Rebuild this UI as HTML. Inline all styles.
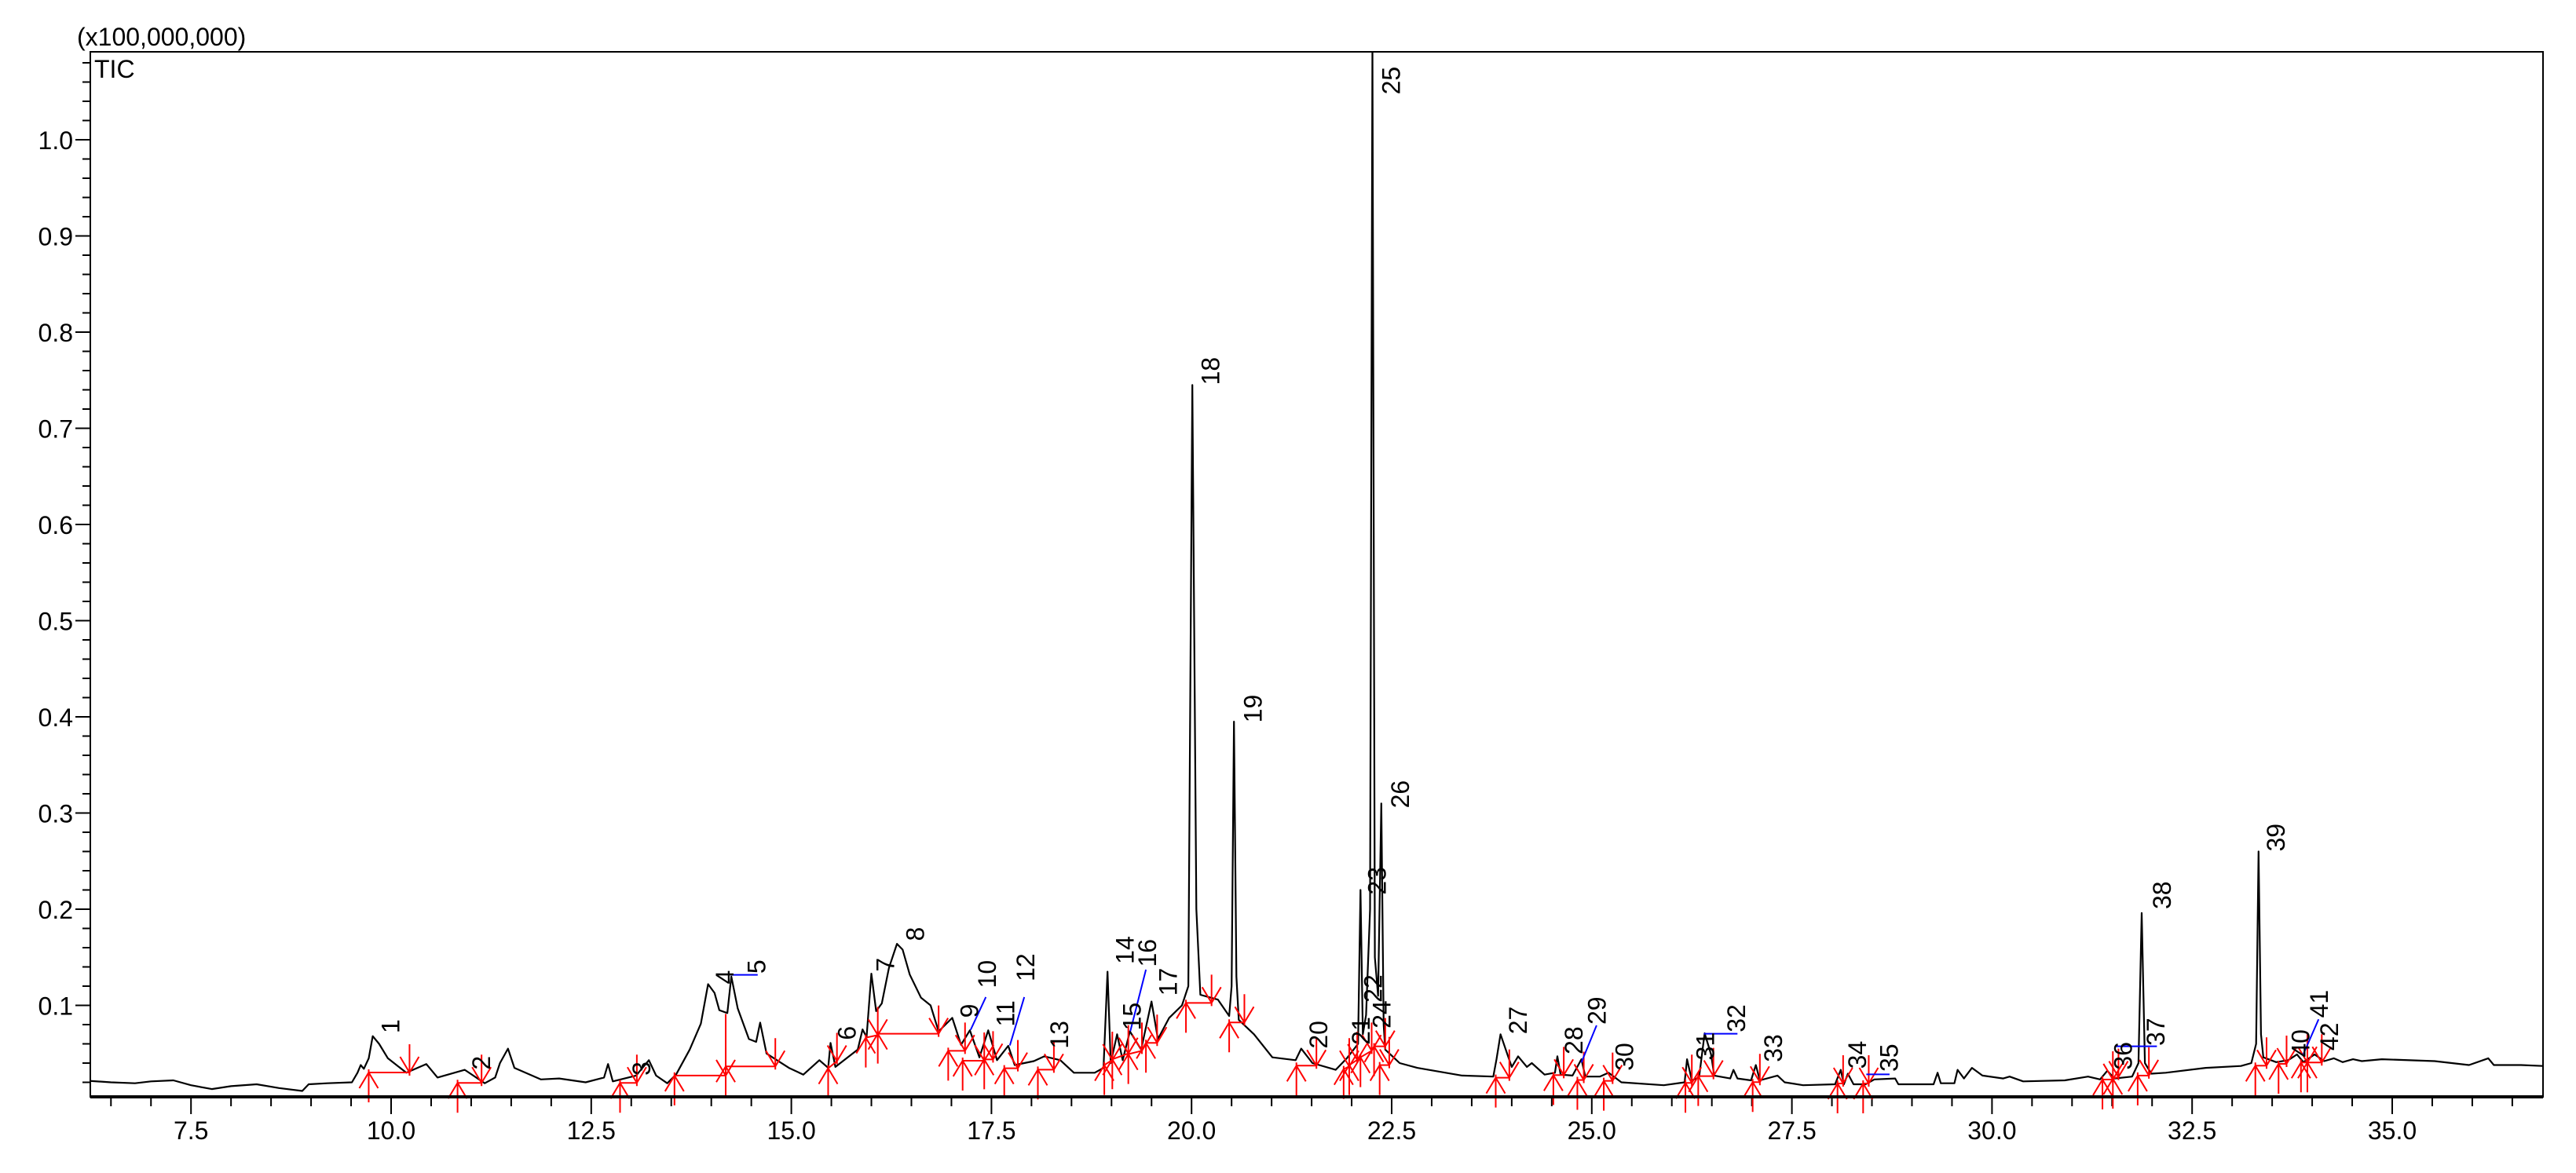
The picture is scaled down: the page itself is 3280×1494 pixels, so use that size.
<!DOCTYPE html>
<html><head><meta charset="utf-8">
<style>
html,body{margin:0;padding:0;background:#fff;}
svg{display:block;font-family:"Liberation Sans",Arial,sans-serif;}
</style></head>
<body>
<svg id="chart" width="3280" height="1494" viewBox="0 0 3280 1494" xmlns="http://www.w3.org/2000/svg">
<rect x="0" y="0" width="3280" height="1494" fill="#fff"/>
<text x="98" y="58" font-size="32">(x100,000,000)</text>
<g id="ticks"></g>
<g id="trace"></g>
<g id="marks"></g>
<g id="labels"></g>
<rect x="115" y="66" width="3123" height="1331" fill="none" stroke="#000" stroke-width="2"/>
<line x1="115" y1="1397" x2="3238" y2="1397" stroke="#000" stroke-width="4"/>
<text x="120" y="99" font-size="32">TIC</text>
</svg>
<script>
// ---- data ----
const xTickLabels = ["7.5","10.0","12.5","15.0","17.5","20.0","22.5","25.0","27.5","30.0","32.5","35.0"];
const yTickLabels = ["0.1","0.2","0.3","0.4","0.5","0.6","0.7","0.8","0.9","1.0"];
const traceTimes = [6.24,6.5,6.8,7.0,7.28,7.5,7.76,8.0,8.32,8.6,8.89,8.97,9.2,9.51,9.58,9.62,9.66,9.72,9.77,9.85,9.96,10.19,10.44,10.58,10.92,11.17,11.3,11.36,11.46,11.54,11.87,12.1,12.43,12.66,12.71,12.77,13.06,13.22,13.31,13.45,13.56,13.73,13.87,13.96,14.04,14.1,14.2,14.25,14.33,14.47,14.56,14.61,14.69,14.97,15.15,15.35,15.46,15.49,15.55,15.83,15.89,15.94,16.0,16.06,16.13,16.22,16.32,16.39,16.48,16.62,16.74,16.84,17.01,17.12,17.23,17.35,17.46,17.57,17.71,17.79,18.03,18.16,18.36,18.53,18.79,18.9,18.95,18.99,19.07,19.14,19.23,19.37,19.5,19.58,19.72,19.88,19.96,20.01,20.06,20.11,20.33,20.47,20.5,20.53,20.56,20.59,20.78,21.01,21.3,21.37,21.51,21.8,21.94,22.08,22.11,22.14,22.18,22.23,22.26,22.29,22.33,22.37,22.4,22.42,22.6,22.82,23.38,23.77,23.81,23.86,23.95,24.0,24.08,24.19,24.25,24.41,24.54,24.57,24.61,24.76,24.87,24.92,25.1,25.21,25.37,25.9,26.16,26.19,26.25,26.34,26.41,26.49,26.53,26.73,26.77,26.82,26.99,27.05,27.1,27.32,27.41,27.64,28.04,28.11,28.15,28.2,28.27,28.42,28.53,28.79,28.83,29.27,29.32,29.36,29.53,29.57,29.65,29.75,29.88,30.14,30.22,30.39,30.91,31.2,31.35,31.44,31.53,31.75,31.83,31.87,31.91,31.99,32.17,32.67,33.11,33.24,33.3,33.33,33.36,33.39,33.55,33.7,33.81,33.89,34.03,34.15,34.27,34.38,34.51,34.62,34.87,35.53,35.96,36.2,36.27,36.61,36.89];
const traceValues = [0.0215,0.020,0.019,0.021,0.022,0.017,0.013,0.016,0.018,0.014,0.011,0.018,0.019,0.020,0.030,0.038,0.034,0.045,0.068,0.060,0.045,0.030,0.039,0.025,0.033,0.019,0.025,0.040,0.055,0.035,0.023,0.024,0.020,0.025,0.039,0.021,0.027,0.043,0.027,0.019,0.028,0.054,0.081,0.122,0.113,0.095,0.092,0.130,0.097,0.065,0.062,0.082,0.050,0.035,0.028,0.043,0.035,0.061,0.036,0.054,0.075,0.067,0.133,0.094,0.102,0.139,0.164,0.158,0.132,0.108,0.100,0.073,0.087,0.059,0.074,0.046,0.074,0.043,0.058,0.038,0.042,0.047,0.043,0.030,0.030,0.035,0.135,0.040,0.070,0.043,0.073,0.054,0.104,0.065,0.087,0.100,0.120,0.745,0.200,0.111,0.106,0.089,0.120,0.395,0.130,0.085,0.070,0.046,0.043,0.055,0.040,0.033,0.045,0.060,0.220,0.070,0.090,0.200,1.100,0.150,0.110,0.310,0.080,0.054,0.040,0.035,0.027,0.026,0.044,0.070,0.048,0.036,0.047,0.036,0.040,0.028,0.030,0.047,0.028,0.027,0.044,0.026,0.026,0.030,0.020,0.017,0.020,0.044,0.022,0.025,0.071,0.049,0.027,0.024,0.033,0.024,0.022,0.038,0.022,0.027,0.020,0.017,0.018,0.033,0.018,0.029,0.018,0.018,0.023,0.024,0.018,0.018,0.030,0.019,0.019,0.033,0.024,0.035,0.027,0.024,0.026,0.021,0.022,0.026,0.023,0.032,0.024,0.026,0.040,0.196,0.040,0.029,0.030,0.035,0.037,0.040,0.060,0.260,0.070,0.046,0.041,0.043,0.049,0.041,0.049,0.042,0.045,0.041,0.044,0.042,0.044,0.042,0.038,0.045,0.038,0.038,0.037];
const peakNames = ["1","2","3","4","5","6","7","8","9","10","11","12","13","14","15","16","17","18","19","20","21","22","23","24","25","26","27","28","29","30","31","32","33","34","35","36","37","38","39","40","41","42"];
const peakLabelTimes = [9.87,11.0,13.0,14.04,14.44,15.57,16.05,16.42,17.1,17.32,17.55,17.8,18.22,19.04,19.13,19.32,19.58,20.11,20.64,21.46,21.99,22.14,22.19,22.25,22.37,22.48,23.95,24.65,24.94,25.28,26.29,26.68,27.14,28.19,28.59,31.51,31.92,32.0,33.42,33.73,33.96,34.09];
const peakLabelValues = [0.071,0.033,0.027,0.122,0.133,0.064,0.135,0.167,0.087,0.118,0.078,0.125,0.055,0.143,0.074,0.140,0.110,0.745,0.394,0.055,0.059,0.103,0.215,0.076,1.047,0.305,0.070,0.049,0.080,0.032,0.043,0.072,0.041,0.034,0.031,0.033,0.058,0.200,0.260,0.046,0.087,0.053];
const segStartT = [9.72,10.83,12.86,13.54,14.18,15.46,15.93,16.08,16.96,17.14,17.41,17.66,18.08,18.91,19.01,19.21,19.43,19.93,20.47,21.31,21.90,21.97,22.11,22.28,22.35,23.80,24.52,24.82,25.15,26.17,26.33,27.01,28.07,28.39,31.38,31.51,31.82,33.29,33.58,33.86,33.94];
const segStartV = [0.0302,0.0194,0.0194,0.027,0.0365,0.0346,0.0664,0.0705,0.0528,0.0425,0.0438,0.0346,0.0332,0.0379,0.0439,0.0493,0.061,0.1026,0.0822,0.0373,0.0338,0.0379,0.046,0.0574,0.0379,0.0248,0.0275,0.0224,0.0215,0.0194,0.0264,0.0202,0.0188,0.0188,0.0229,0.0237,0.027,0.0373,0.0392,0.0406,0.0406];
const segEndT = [10.23,11.13,13.07,14.18,14.80,15.57,16.08,16.84,17.17,17.41,17.52,17.83,18.28,19.01,19.21,19.38,19.57,20.25,20.66,21.56,21.97,22.07,22.25,22.42,22.47,23.97,24.65,24.90,25.26,26.25,26.52,27.10,28.14,28.46,31.51,31.58,31.96,33.43,33.68,33.94,34.12];
const segEndV = [0.0302,0.0194,0.0194,0.027,0.0365,0.042,0.0691,0.0705,0.0528,0.0425,0.0438,0.0346,0.0332,0.0433,0.050,0.0528,0.061,0.1026,0.0822,0.0373,0.0365,0.0433,0.0528,0.0574,0.0379,0.0248,0.0275,0.0224,0.0215,0.0194,0.0264,0.0202,0.0188,0.0188,0.0229,0.0256,0.027,0.0373,0.0392,0.0406,0.0406];
const leaderT1 = [14.24,17.24,17.73,19.235,24.87,26.40,28.43,31.55,33.89];
const leaderV1 = [0.1317,0.0746,0.0583,0.0732,0.0406,0.0705,0.0283,0.0574,0.0493];
const leaderT2 = [14.58,17.43,17.91,19.43,25.06,26.82,28.72,32.06,34.08];
const leaderV2 = [0.1317,0.1086,0.1086,0.1371,0.0792,0.0705,0.0283,0.0574,0.0855];

// ---- scales ----
const NS = "http://www.w3.org/2000/svg";
const L = 115, R = 3238, T = 66, B = 1397;
const X = t => 498 + (t - 10) * 101.92;
const Y = v => 1403 - v * 1225;
function mk(tag, parent, attrs) {
  const e = document.createElementNS(NS, tag);
  for (const k in attrs) e.setAttribute(k, attrs[k]);
  parent.appendChild(e);
  return e;
}
const gT = document.getElementById("ticks");
// x ticks
for (let i = 0; i <= 62; i++) {
  const t = 6.5 + i * 0.5;
  const x = X(t);
  if (x < L || x > R) continue;
  const major = Math.abs((t / 2.5) - Math.round(t / 2.5)) < 1e-6;
  const tk = mk("line", gT, {x1: x, y1: B, x2: x, y2: B + (major ? 22 : 12), stroke: "#000", "stroke-width": 2});
  
  
}
xTickLabels.forEach(s => {
  const t = parseFloat(s);
  const tx = mk("text", gT, {x: X(t), y: 1451, "font-size": 32, "text-anchor": "middle"});
  tx.textContent = s;
  
  
});
// y ticks
for (let i = 1; i <= 54; i++) {
  const v = i * 0.02;
  const y = Y(v);
  if (y < T || y > B) continue;
  const major = (i % 5 === 0);
  const tk = mk("line", gT, {x1: major ? 96 : 105, y1: y, x2: L, y2: y, stroke: "#000", "stroke-width": 2});
  
  
}
yTickLabels.forEach(s => {
  const v = parseFloat(s);
  const tx = mk("text", gT, {x: 93, y: Y(v) + 12, "font-size": 32, "text-anchor": "end"});
  tx.textContent = s;
  
  
});
// trace
const gTr = document.getElementById("trace");
const clip = mk("clipPath", document.getElementById("chart"), {id: "plotclip"});
mk("rect", clip, {x: L, y: T, width: R - L, height: B - T});
let d = "";
traceTimes.forEach((t, i) => { d += (i ? "L" : "M") + X(t).toFixed(1) + " " + Y(traceValues[i]).toFixed(1); });
const p = mk("path", gTr, {d: d, fill: "none", stroke: "#000", "stroke-width": 2.2, "stroke-linejoin": "round", "clip-path": "url(#plotclip)"});


// integration marks
const gM = document.getElementById("marks");
segStartT.forEach((t0, i) => {
  const x0 = X(t0), y0 = Y(segStartV[i]), x1 = X(segEndT[i]), y1 = Y(segEndV[i]);
  const g = mk("g", gM, {stroke: "#ff0000", "stroke-width": 2, fill: "none"});
  
  
  mk("line", g, {x1: x0, y1: y0, x2: x1, y2: y1});
  mk("path", g, {d: `M${x0} ${y0 - 4}L${x0} ${y0 + 38}M${x0 - 12} ${y0 + 20}L${x0} ${y0}L${x0 + 12} ${y0 + 20}`});
  mk("path", g, {d: `M${x1} ${y1 - 36}L${x1} ${y1 + 4}M${x1 - 12} ${y1 - 20}L${x1} ${y1}L${x1 + 12} ${y1 - 20}`});
});
// drop line under peak 4
const drop = mk("line", gM, {x1: X(14.18), y1: Y(0.027), x2: X(14.18), y2: Y(0.091), stroke: "#ff0000", "stroke-width": 2});


// leader lines
leaderT1.forEach((t, i) => {
  const l = mk("line", gM, {x1: X(t), y1: Y(leaderV1[i]), x2: X(leaderT2[i]), y2: Y(leaderV2[i]), stroke: "#0000ff", "stroke-width": 2});
  
  
});
// peak labels
const gL = document.getElementById("labels");
peakNames.forEach((n, i) => {
  const xl = X(peakLabelTimes[i]) + 24, yb = Y(peakLabelValues[i]);
  const tx = mk("text", gL, {x: xl, y: yb, "font-size": 32, transform: `rotate(-90 ${xl} ${yb})`});
  tx.textContent = n;
  
  
});
</script>
</body></html>
